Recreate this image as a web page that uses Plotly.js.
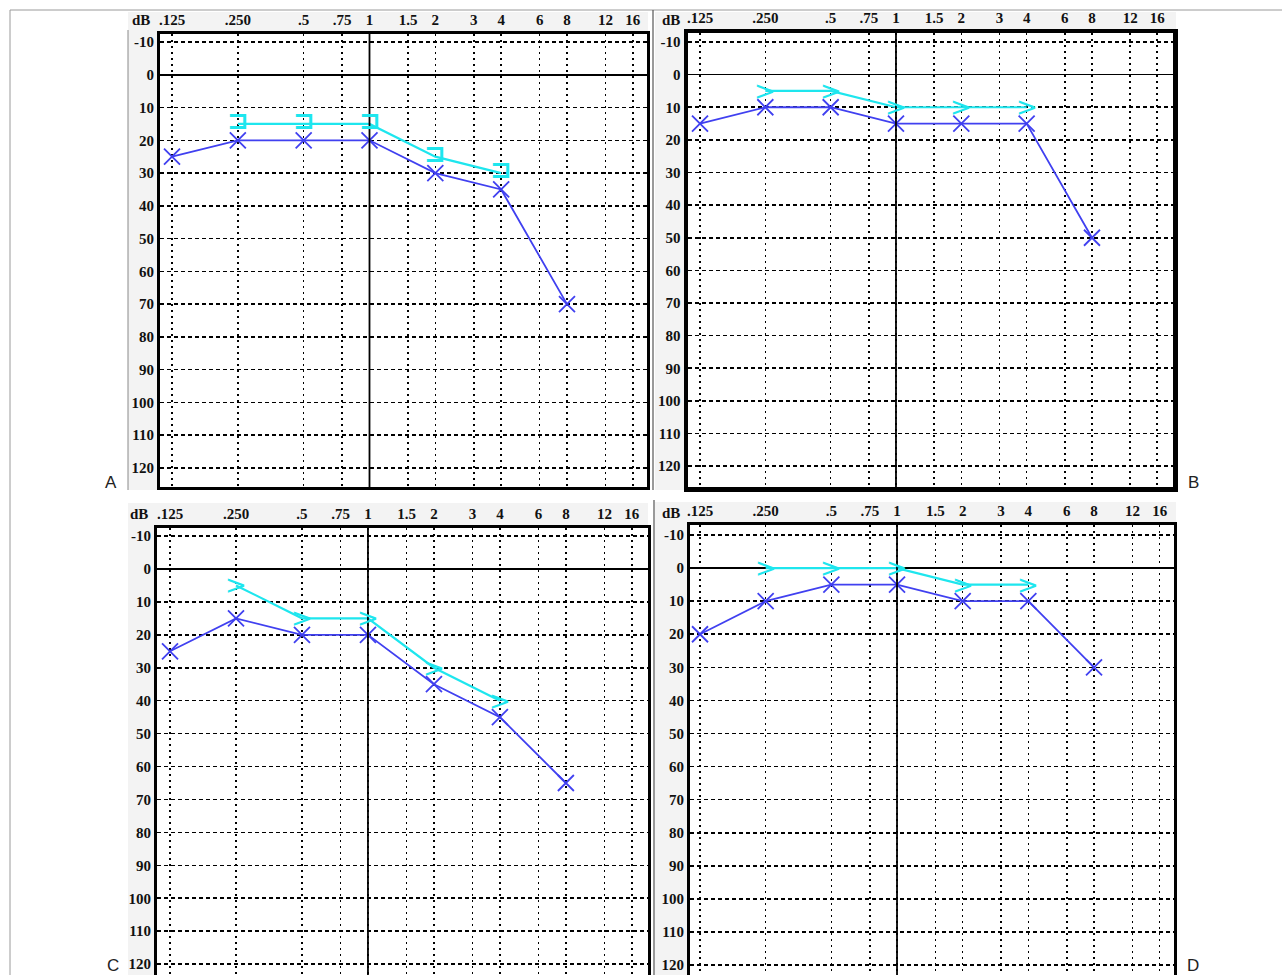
<!DOCTYPE html>
<html>
<head>
<meta charset="utf-8">
<script src="https://cdn.plot.ly/plotly-3.0.1.min.js"></script>
<style>
html,body{margin:0;padding:0;background:#fff;}
#chart{width:1282px;height:975px;}
</style>
</head>
<body>
<div id="chart"></div>
<script>
// ---- data ----
const acFreqs = [0.125, 0.25, 0.5, 1, 2, 4, 8];
const bcFreqs = [0.25, 0.5, 1, 2, 4];
const acA = [25, 20, 20, 20, 30, 35, 70];
const bcA = [15, 15, 15, 25, 30];
const acB = [15, 10, 10, 15, 15, 15, 50];
const bcB = [5, 5, 10, 10, 10];
const acC = [25, 15, 20, 20, 35, 45, 65];
const bcC = [5, 15, 15, 30, 40];
const acD = [20, 10, 5, 5, 10, 10, 30];
const bcD = [0, 0, 0, 5, 5];
const freqTicks = [0.125, 0.25, 0.5, 0.75, 1, 1.5, 2, 3, 4, 6, 8, 12, 16];
const freqLabels = ['.125', '.250', '.5', '.75', '1', '1.5', '2', '3', '4', '6', '8', '12', '16'];
const dbTicks = [-10, 0, 10, 20, 30, 40, 50, 60, 70, 80, 90, 100, 110, 120];
const dbLabels = ['-10', '0', '10', '20', '30', '40', '50', '60', '70', '80', '90', '100', '110', '120'];
const panelLetters = ['A', 'B', 'C', 'D'];
const bcSymbols = ['⊐', '>', '>', '>'];

// ---- layout helpers ----
const W = 1282, H = 975;
const px = v => v / W;
const py = v => 1 - v / H;

const panels = [
  {ac: acA, bc: bcA, box: [160, 647, 34, 487], xr: [-0.958, 1.269], yr: [125.8, -12.44], full: true, lw: 3},
  {ac: acB, bc: bcB, box: [688, 1173, 33, 487], xr: [-0.9584, 1.2765], yr: [126.4, -12.76], full: true, lw: 4.5},
  {ac: acC, bc: bcC, box: [157, 648, 528, 975], xr: [-0.9625, 1.2777], yr: [123.3, -12.43], full: false, lw: 3},
  {ac: acD, bc: bcD, box: [690, 1174, 525, 975], xr: [-0.949, 1.2697], yr: [123.0, -13.02], full: false, lw: 3}
];

const BLUE = '#4040f0';
const CYAN = '#1ee6ee';
const tickFont = {family: 'Liberation Serif, Times New Roman, serif', size: 15, color: '#111', weight: 'bold'};
const bcFonts = [
  {family: 'DejaVu Sans', size: 26, color: CYAN, weight: 'bold'},
  {family: 'DejaVu Sans', size: 26, color: CYAN, weight: 'normal'}
];
const bcShift = [4, 0];

const traces = [];
const layout = {
  width: W, height: H,
  margin: {l: 0, r: 0, t: 0, b: 0},
  paper_bgcolor: '#fff', plot_bgcolor: '#fff',
  showlegend: false,
  shapes: [], annotations: []
};

panels.forEach((p, i) => {
  const n = i === 0 ? '' : String(i + 1);
  const xa = 'x' + n, ya = 'y' + n;
  const [x0, x1, y0, y1] = p.box;
  layout['xaxis' + n] = {
    type: 'log', range: p.xr, domain: [px(x0), px(x1)], anchor: ya,
    side: 'top', tickvals: freqTicks, ticktext: freqLabels, tickfont: tickFont,
    ticks: '', showgrid: true, gridcolor: '#000', gridwidth: 1.6, griddash: '2px,4px',
    showline: true, linecolor: '#000', linewidth: p.lw, mirror: p.full,
    zeroline: false, fixedrange: true
  };
  layout['yaxis' + n] = {
    range: p.yr, domain: [py(y1), py(y0)], anchor: xa,
    tickvals: dbTicks, ticktext: dbLabels, tickfont: tickFont,
    ticks: '', showgrid: true, gridcolor: '#000', gridwidth: 1.6, griddash: '4px,3px',
    zeroline: true, zerolinecolor: '#000', zerolinewidth: 1.6,
    showline: true, linecolor: '#000', linewidth: p.lw, mirror: true, fixedrange: true
  };
  // 1 kHz solid line
  layout.shapes.push({type: 'line', xref: xa, yref: ya + ' domain', x0: 1, x1: 1, y0: 0, y1: 1,
    line: {color: '#000', width: 1.8}});
  // air conduction
  traces.push({
    x: acFreqs, y: p.ac, xaxis: xa, yaxis: ya, mode: 'lines+markers', type: 'scatter',
    line: {color: BLUE, width: 1.8},
    marker: {symbol: 'x-thin', size: 16, color: BLUE, line: {color: BLUE, width: 1.8}},
    hoverinfo: 'skip'
  });
  // bone conduction line
  traces.push({
    x: bcFreqs, y: p.bc, xaxis: xa, yaxis: ya, mode: 'lines', type: 'scatter',
    line: {color: CYAN, width: 2.2}, hoverinfo: 'skip'
  });
  // bone conduction symbols
  bcFreqs.forEach((f, k) => layout.annotations.push({
    xref: xa, yref: ya, x: Math.log10(f), y: p.bc[k], text: bcSymbols[i], showarrow: false,
    xanchor: 'center', yanchor: 'middle', yshift: i === 0 ? bcShift[0] : bcShift[1],
    font: i === 0 ? bcFonts[0] : bcFonts[1]
  }));
});

// gray label strips
const gray = '#f3f3f3';
const strips = [
  [128, 648, 12, 33], [128, 157, 33, 490],
  [655, 1176, 12, 32], [655, 687, 32, 490],
  [128, 648, 503, 527], [128, 155, 527, 975],
  [655, 1176, 502, 524], [655, 689, 524, 975]
];
strips.forEach(s => layout.shapes.push({type: 'rect', xref: 'paper', yref: 'paper', layer: 'below',
  x0: px(s[0]), x1: px(s[1]), y0: py(s[3]), y1: py(s[2]), fillcolor: gray, line: {width: 0}}));

// frame lines
const frameLines = [
  [10, 10, 1282, 10, '#9a9a9a', 1], [10, 10, 10, 975, '#9a9a9a', 1],
  [128, 30, 128, 490, '#8a8a8a', 1], [653, 10, 653, 490, '#555', 1.2], [654, 500, 654, 975, '#555', 1.2]
];
frameLines.forEach(l => layout.shapes.push({type: 'line', xref: 'paper', yref: 'paper',
  x0: px(l[0]), y0: py(l[1]), x1: px(l[2]), y1: py(l[3]), line: {color: l[4], width: l[5]}}));

// "dB" labels
const dbPos = [[141, 20], [671, 20], [139, 514], [671, 513]];
dbPos.forEach(d => layout.annotations.push({xref: 'paper', yref: 'paper', x: px(d[0]), y: py(d[1]),
  text: 'dB', showarrow: false, xanchor: 'center', yanchor: 'middle', font: tickFont}));

// panel letters
const letterPos = [[111, 483], [1193, 483], [113, 965], [1193, 965]];
letterPos.forEach((d, i) => layout.annotations.push({xref: 'paper', yref: 'paper', x: px(d[0]), y: py(d[1]),
  text: panelLetters[i], showarrow: false, xanchor: 'center', yanchor: 'middle',
  font: {family: 'Liberation Sans, Arial, sans-serif', size: 17, color: '#222'}}));

Plotly.newPlot('chart', traces, layout, {displayModeBar: false, staticPlot: true});
</script>
</body>
</html>
